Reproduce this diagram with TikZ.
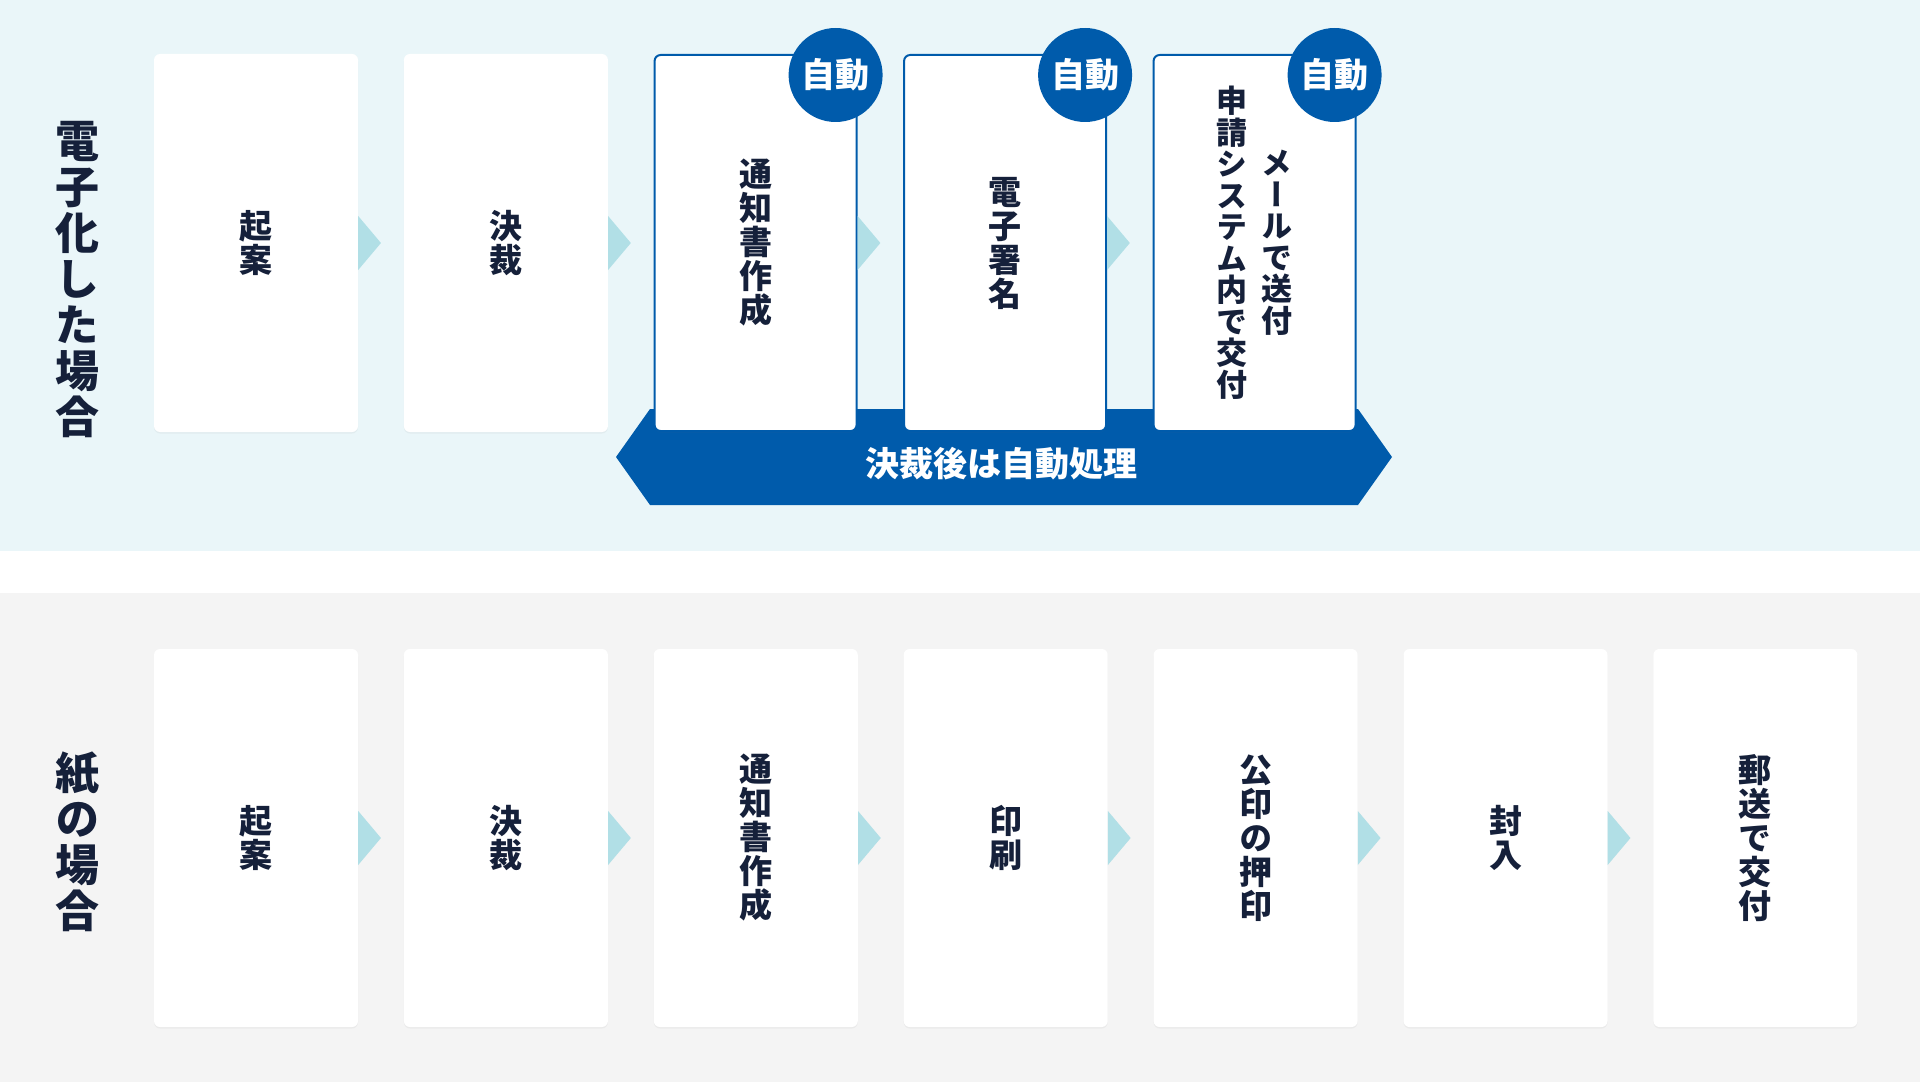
\documentclass[tikz,border=0pt]{standalone}
\usepackage{fontspec}
\setmainfont{Noto Sans CJK JP}
\newfontfamily\vjp{Noto Sans CJK JP}[RawFeature=+vert]
\usetikzlibrary{positioning,calc,shadows}
\definecolor{bgdigi}{HTML}{EAF6F9}
\definecolor{bgpaper}{HTML}{F4F4F4}
\definecolor{navy}{HTML}{15203A}
\definecolor{autoblue}{HTML}{005BAB}
\definecolor{chev}{HTML}{B1DFE6}
\newcommand\tate[1]{\parbox[c]{32pt}{\centering #1}}

\begin{document}
\begin{tikzpicture}[
  x=1pt, y=-1pt,
  node distance=45.5pt,
  box/.style={rectangle, fill=white, rounded corners=6pt, minimum width=204pt, minimum height=378pt, inner sep=0pt, align=center, text=navy, font=\vjp\bfseries\fontsize{33}{34}\selectfont, drop shadow={shadow xshift=0pt, shadow yshift=-1.5pt, opacity=0.08}},
  autobox/.style={box, draw=autoblue, line width=2pt, minimum width=202pt, minimum height=376pt},
  badge/.style={circle, fill=autoblue, minimum size=94pt, inner sep=0pt, text=white, font=\bfseries\fontsize{34}{36}\selectfont},
  side/.style={align=center, text=navy, font=\vjp\bfseries\fontsize{44}{46}\selectfont},
  chevron/.style={fill=chev}
]
\fill[white] (0,0) rectangle (1920,1086);
\useasboundingbox (0,0) rectangle (1920,1086);
\fill[bgdigi] (0,0) rectangle (1920,551);
\fill[bgpaper] (0,593) rectangle (1920,1082);

\node[side] (ld) at (77,280) {電\\子\\化\\し\\た\\場\\合};
\node[side] (lp) at (77,842) {紙\\の\\場\\合};

\fill[autoblue] (616,457) -- (650,409) -- (1358,409) -- (1392,457) -- (1358,505) -- (650,505) -- cycle;
\node[text=white, font=\bfseries\fontsize{34}{36}\selectfont] (bt) at (1001,464) {決裁後は自動処理};

\node[box] (d1) at (256,243) {起\\案};
\node[box, right=of d1] (d2) {決\\裁};
\node[autobox, right=of d2] (d3) {通\\知\\書\\作\\成};
\node[autobox, right=of d3] (d4) {電\\子\\署\\名};
\node[autobox, right=of d4] (d5) {\fontsize{31}{31.5}\selectfont\tate{申\\請\\シ\\ス\\テ\\ム\\内\\で\\交\\付}\hspace{13pt}\tate{メ\\ー\\ル\\で\\送\\付}};

\node[badge] (a3) at ([xshift=-22pt, yshift=-21pt]d3.north east) {自動};
\node[badge] (a4) at ([xshift=-22pt, yshift=-21pt]d4.north east) {自動};
\node[badge] (a5) at ([xshift=-22pt, yshift=-21pt]d5.north east) {自動};

\node[box] (p1) at (256,838) {起\\案};
\node[box, right=of p1] (p2) {決\\裁};
\node[box, right=of p2] (p3) {通\\知\\書\\作\\成};
\node[box, right=of p3] (p4) {印\\刷};
\node[box, right=of p4] (p5) {公\\印\\の\\押\\印};
\node[box, right=of p5] (p6) {封\\入};
\node[box, right=of p6] (p7) {郵\\送\\で\\交\\付};

\foreach \a/\b in {d1/d2,d2/d3,d3/d4,d4/d5,p1/p2,p2/p3,p3/p4,p4/p5,p5/p6,p6/p7}
  \fill[chevron] ($(\a.east)+(0,-27)$) -- ($(\a.east)!0.5!(\b.west)$) -- ($(\a.east)+(0,27)$) -- cycle;
\end{tikzpicture}
\end{document}
